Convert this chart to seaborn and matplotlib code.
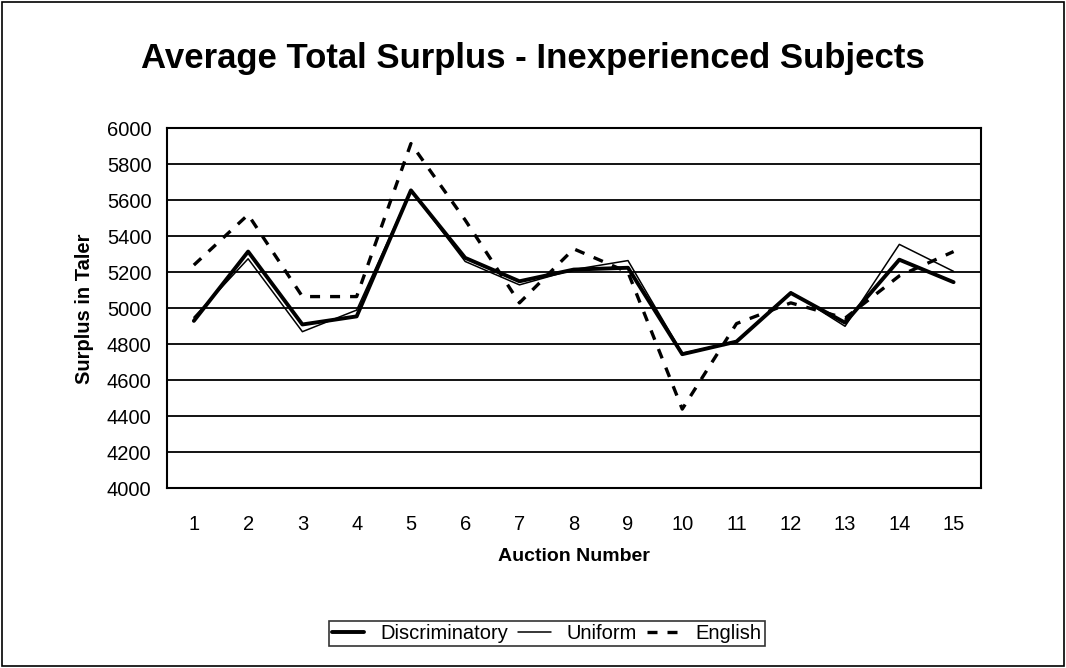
import seaborn as sns
import pandas as pd
import matplotlib.pyplot as plt
from matplotlib.patches import Rectangle

sns.set_theme(style="white")
plt.rcParams['font.family'] = ['Liberation Sans', 'DejaVu Sans']
plt.rcParams['text.color'] = 'black'
plt.rcParams['axes.labelcolor'] = 'black'

auctions = list(range(1, 16))
discriminatory = [4930, 5315, 4910, 4955, 5655, 5280, 5150, 5215, 5225, 4745, 4815, 5085, 4920, 5270, 5145]
uniform = [4950, 5275, 4870, 4990, 5655, 5260, 5130, 5215, 5265, 4750, 4815, 5090, 4900, 5355, 5205]
english = [5240, 5520, 5065, 5065, 5915, 5490, 5030, 5330, 5200, 4440, 4915, 5030, 4945, 5180, 5315]

df = pd.DataFrame({"pos": range(len(auctions)), "Discriminatory": discriminatory,
                   "Uniform": uniform, "English": english})

fig = plt.figure(figsize=(10.66, 6.68), dpi=100)
ax = fig.add_axes([0.1564, 0.269, 0.7636, 0.539])

sns.lineplot(data=df, x="pos", y="Discriminatory", ax=ax, color="black", linewidth=2.8, label="Discriminatory")
sns.lineplot(data=df, x="pos", y="Uniform", ax=ax, color="black", linewidth=1.1, label="Uniform")
sns.lineplot(data=df, x="pos", y="English", ax=ax, color="black", linewidth=2.4,
             linestyle=(0, (3, 3)), label="English")

ax.set_xlim(-0.5, len(auctions) - 0.5)
ax.set_ylim(4000, 6000)
ax.set_yticks(range(4000, 6001, 200))
ax.yaxis.grid(True, color="black", linewidth=1.3)
ax.set_axisbelow(True)

# category labels in the middle, tick marks on the boundaries
ax.set_xticks(range(len(auctions)))
ax.set_xticklabels([str(a) for a in auctions])
ax.set_xticks([i - 0.5 for i in range(len(auctions) + 1)], minor=True)
ax.tick_params(axis="x", which="major", length=0, pad=19, labelsize=14.5, labelcolor="black")
ax.tick_params(axis="x", which="minor", length=6, width=1.3, direction="out", color="black")
ax.tick_params(axis="y", length=5, width=1.3, direction="out", color="black", labelsize=14.5,
               pad=6, labelcolor="black")
for s in ax.spines.values():
    s.set_color("black")
    s.set_linewidth(1.5)

ax.set_xlabel("Auction Number", fontsize=14, fontweight="bold", labelpad=10)
ax.set_ylabel("Surplus in Taler", fontsize=14.5, fontweight="bold", labelpad=9)

fig.text(0.5, 0.913, "Average Total Surplus - Inexperienced Subjects", ha="center", va="center",
         fontsize=25, fontweight="bold")

ax.legend_.remove()
handles, labels = ax.get_legend_handles_labels()
leg = fig.legend(handles, labels, loc="center", bbox_to_anchor=(0.513, 0.052), ncol=3, frameon=True,
                 fancybox=False, edgecolor="black", fontsize=14.5, handlelength=1.6,
                 columnspacing=0.5, handletextpad=0.8, borderpad=0.15, borderaxespad=0)
leg.get_frame().set_linewidth(1.2)

fig.patches.append(Rectangle((0.002, 0.003), 0.996, 0.994, transform=fig.transFigure,
                             fill=False, edgecolor="black", linewidth=1.2))

fig.savefig("out.png", dpi=100)
